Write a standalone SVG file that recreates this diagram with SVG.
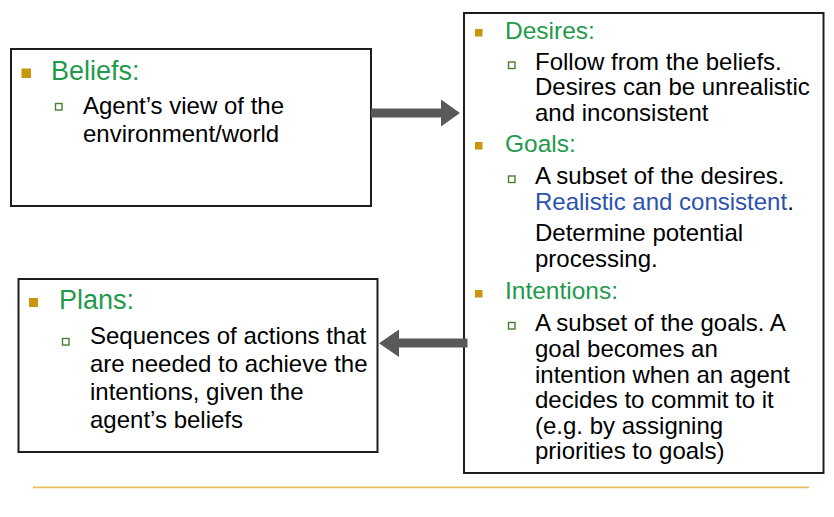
<svg xmlns="http://www.w3.org/2000/svg" width="834" height="517" viewBox="0 0 834 517">
<style>
.box{fill:#fff;stroke:#1e1e1e;stroke-width:2}
.t{font-family:"Liberation Sans",Arial,sans-serif;font-size:24px;fill:#000}
.hl{font-family:"Liberation Sans",Arial,sans-serif;font-size:27px;fill:#1f9a4c}
.hr{font-family:"Liberation Sans",Arial,sans-serif;font-size:24.5px;fill:#1f9a4c}
.blue{fill:#2b52ad}
.b1{fill:#c9970c}
.b2{fill:#fff;stroke:#4a7f30;stroke-width:1.4}
.arrow{fill:#595959}
</style>
<rect width="834" height="517" fill="#fff"/>
<g id="beliefs">
<rect class="box" x="11" y="49" width="360" height="157"/>
<rect class="b1" x="21.5" y="68.5" width="9.5" height="9.5"/>
<text class="hl" x="51" y="80">Beliefs:</text>
<rect class="b2" x="55.5" y="103.5" width="6.5" height="6.5"/>
<text class="t" x="83" y="114">Agent’s view of the</text>
<text class="t" x="83" y="142">environment/world</text>
</g>
<g id="plans">
<rect class="box" x="18.5" y="279" width="359" height="173"/>
<rect class="b1" x="29" y="298" width="9" height="9"/>
<text class="hl" x="59" y="309">Plans:</text>
<rect class="b2" x="62.5" y="338.5" width="6.5" height="6.5"/>
<text class="t" x="90" y="344">Sequences of actions that</text>
<text class="t" x="90" y="372">are needed to achieve the</text>
<text class="t" x="90" y="400">intentions, given the</text>
<text class="t" x="90" y="428">agent’s beliefs</text>
</g>
<g id="mental-states">
<rect class="box" x="464" y="13" width="359.5" height="460"/>
<rect class="b1" x="475" y="29" width="7.5" height="7.5"/>
<text class="hr" x="505" y="38.5">Desires:</text>
<rect class="b2" x="508.5" y="62" width="6.5" height="6.5"/>
<text class="t" x="535" y="69.5">Follow from the beliefs.</text>
<text class="t" x="535" y="95">Desires can be unrealistic</text>
<text class="t" x="535" y="120.5">and inconsistent</text>
<rect class="b1" x="475" y="142" width="7.5" height="7.5"/>
<text class="hr" x="505" y="152">Goals:</text>
<rect class="b2" x="508.5" y="176" width="6.5" height="6.5"/>
<text class="t" x="535" y="183.5">A subset of the desires.</text>
<text class="t" x="535" y="209.5"><tspan class="blue">Realistic and consistent</tspan>.</text>
<text class="t" x="535" y="240.5">Determine potential</text>
<text class="t" x="535" y="266.5">processing.</text>
<rect class="b1" x="475" y="290" width="7.5" height="7.5"/>
<text class="hr" x="505" y="299">Intentions:</text>
<rect class="b2" x="508.5" y="322.5" width="6.5" height="6.5"/>
<text class="t" x="535" y="330.5">A subset of the goals. A</text>
<text class="t" x="535" y="356.5">goal becomes an</text>
<text class="t" x="535" y="382.5">intention when an agent</text>
<text class="t" x="535" y="408">decides to commit to it</text>
<text class="t" x="535" y="433.5">(e.g. by assigning</text>
<text class="t" x="535" y="459">priorities to goals)</text>
</g>
<g id="connectors">
<path class="arrow" d="M371,108.5 H441 V99.5 L460,113 L441,126.5 V117.5 H371 Z"/>
<path class="arrow" d="M467.5,338.5 H399 V329.5 L379,343.3 L399,357 V347.5 H467.5 Z"/>
</g>
<line x1="33" y1="487.3" x2="809" y2="487.3" stroke="#e6c05c" stroke-width="1.8"/>
</svg>
